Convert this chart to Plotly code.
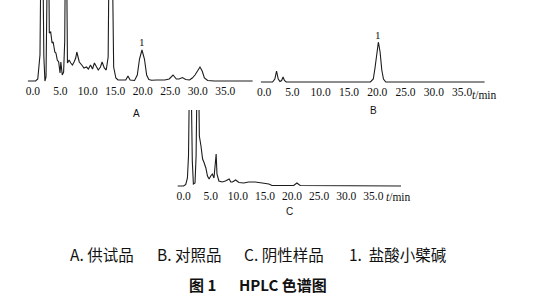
import plotly.graph_objects as go

W, H = 546, 304

# ---------------- data (retention time in min, detector response in arbitrary units) -------------
tick_vals = [0, 5, 10, 15, 20, 25, 30, 35]
tick_text = ["0.0", "5.0", "10.0", "15.0", "20.0", "25.0", "30.0", "35.0"]

# A: test sample
a_time = [-0.9, 0.5, 0.9, 1.1, 1.3, 1.5, 1.8, 2.0, 2.2, 2.4, 2.55, 2.7, 2.85, 3.0, 3.25, 3.5, 3.7,
          4.0, 4.2, 4.45, 4.7, 4.95, 5.1, 5.35, 5.6, 5.8, 5.95, 6.1, 6.3, 6.6, 6.9, 7.2, 7.5, 7.8,
          8.0, 8.2, 8.45, 8.9, 9.3, 9.75, 10.1, 10.5, 10.85, 11.2, 11.6, 11.9, 12.3, 12.6, 13.0,
          13.35, 13.7, 13.9, 14.4, 14.7, 15.1, 15.5, 16.5, 16.9, 17.3, 17.7, 18.5, 19.0, 19.4,
          19.85, 20.3, 20.7, 21.1, 21.6, 22.5, 24.0, 24.8, 25.5, 26.1, 26.6, 27.2, 27.8, 28.5,
          29.0, 29.5, 30.0, 30.4, 30.8, 31.2, 31.8, 33.0, 40.0]
a_resp = [0, 0, 2, 20, 26, 140, 140, 25, 0, 4, 60, 150, 150, 48, 49, 38, 39,
          29, 28, 21, 19, 8, 19, 6, 9, 40, 150, 150, 18, 21, 18, 16, 19, 23,
          29, 24, 19, 16, 13, 14, 12, 16, 12, 18, 13, 11, 14, 19, 13,
          11, 24, 150, 150, 14, 3, 1, 1, 1, 5, 1, 0.5, 6, 22,
          31, 22, 6, 1.5, 0.8, 1, 1, 2, 6, 2, 2, 3.5, 1.5, 1,
          3, 6, 10, 14, 10, 3, 0.5, 0, 0]

# B: reference substance
b_time = [-0.6, 1.5, 1.9, 2.2, 2.5, 2.8, 3.1, 3.35, 3.6, 3.9, 18.8, 19.3, 19.6, 19.9, 20.2,
          20.5, 20.8, 21.1, 21.5, 39.0]
b_resp = [0, 0, 3, 11, 3, 0.5, 1.5, 5, 1.5, 0, 0, 3, 14, 30, 40,
          30, 12, 3, 0, 0]

# C: negative sample
c_time = [-1.1, 0.0, 0.4, 0.7, 0.9, 1.1, 1.35, 1.6, 1.8, 2.1, 2.3, 2.5, 2.75, 2.9, 3.2, 3.35,
          3.5, 3.8, 4.1, 4.4, 4.7, 5.0, 5.3, 5.6, 5.85, 6.0, 6.15, 6.5, 7.1, 7.7, 8.4, 8.7,
          9.0, 9.6, 10.2, 11.1, 12.0, 13.2, 14.5, 15.7, 16.3, 20.3, 20.9, 21.5, 40.1]
c_resp = [0, 0, 1.5, 8, 30, 120, 120, 25, 2, 3, 30, 120, 120, 50, 40, 28,
          27, 23, 18, 10, 7, 10, 12, 8, 20, 32, 12, 5, 4, 5, 7, 4,
          4, 6, 3.5, 3, 4, 4, 3, 2, 0.5, 0.5, 3, 0.5, 0]

peak_label = "1"
peak_a = (19.85, 31)
peak_b = (20.2, 40)

caption_items = ["A. 供试品", "B. 对照品", "C. 阴性样品", "1.  盐酸小檗碱"]
caption_x = [99, 186.5, 282.5, 396.5]
title_parts = ["图 1", "HPLC 色谱图"]
title_x = [200, 281]

# ---------------- layout helpers ----------------
def px_x(p):
    return p / W

def px_y(p):
    return 1 - p / H

serif = "Liberation Serif, Times New Roman, DejaVu Serif, serif"
line_style = dict(color="#1c1c1c", width=1.1)
fig = go.Figure()
fig.add_trace(go.Scatter(x=a_time, y=a_resp, mode="lines", line=line_style, xaxis="x", yaxis="y",
                         hoverinfo="skip", showlegend=False))
fig.add_trace(go.Scatter(x=b_time, y=b_resp, mode="lines", line=line_style, xaxis="x2", yaxis="y2",
                         hoverinfo="skip", showlegend=False))
fig.add_trace(go.Scatter(x=c_time, y=c_resp, mode="lines", line=line_style, xaxis="x3", yaxis="y3",
                         hoverinfo="skip", showlegend=False))

tick_font = dict(family=serif, size=11.5, color="#111")

def xax(rng, dom, anchor):
    return dict(range=rng, domain=dom, anchor=anchor, tickvals=tick_vals, ticktext=tick_text,
                showgrid=False, zeroline=False, showline=False, ticks="", tickfont=tick_font,
                ticklabelstandoff=-2, fixedrange=True)

def yax(rng, dom, anchor):
    return dict(range=rng, domain=dom, anchor=anchor, visible=False, showgrid=False,
                zeroline=False, fixedrange=True)

fig.update_layout(
    width=W, height=H, margin=dict(l=0, r=0, t=0, b=0),
    paper_bgcolor="white", plot_bgcolor="white",
    xaxis=xax([-1, 40], [px_x(23.5), px_x(250.6)], "y"),
    yaxis=yax([-3, 81], [px_y(84), 1.0], "x"),
    xaxis2=xax([-0.6, 39], [px_x(258.6), px_x(484.3)], "y2"),
    yaxis2=yax([-3, 82], [px_y(85), 1.0], "x2"),
    xaxis3=xax([-1.2, 40.2], [px_x(174.4), px_x(400.5)], "y3"),
    yaxis3=yax([-3, 76], [px_y(189), px_y(110)], "x3"),
)

ann = []
def add(txt, x, y, font, xref="paper", yref="paper", yshift=0):
    ann.append(dict(x=x, y=y, xref=xref, yref=yref, text=txt, showarrow=False,
                    xanchor="center", yanchor="middle", yshift=yshift, font=font))

# peak labels
add(peak_label, peak_a[0], peak_a[1], dict(family=serif, size=11, color="#111"), "x", "y", 8)
add(peak_label, peak_b[0], peak_b[1], dict(family=serif, size=11, color="#111"), "x2", "y2", 7)
# panel letters
for txt, x, y in [("A", 133, 113), ("B", 372, 110), ("C", 288, 212)]:
    add(txt, px_x(x), px_y(y), dict(family="Liberation Sans", size=10, color="#111"))
# t/min
for x, y in [(484, 95), (397, 197)]:
    add("<i>t</i>/min", px_x(x), px_y(y), dict(family=serif, size=11.5, color="#111"))
# caption
for txt, x in zip(caption_items, caption_x):
    add(txt, px_x(x), px_y(254), dict(family="Noto Sans CJK SC", size=15.5, color="#111"))
for txt, x in zip(title_parts, title_x):
    add("<b>" + txt + "</b>", px_x(x), px_y(284), dict(family="Noto Sans CJK SC", size=15, color="#111"))
fig.update_layout(annotations=ann)

fig.write_html("out.html")
